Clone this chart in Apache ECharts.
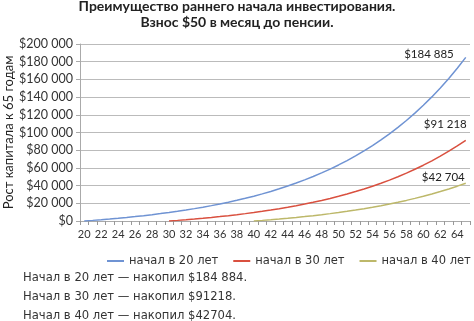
<!DOCTYPE html>
<html><head><meta charset="utf-8">
<script src="https://cdn.jsdelivr.net/npm/echarts@6/dist/echarts.min.js"></script>
<style>html,body{margin:0;padding:0;background:#fff}#c{width:474px;height:321px}</style>
</head><body><div id="c"></div>
<script>
const ages = [];
for (let a = 20; a <= 65; a++) ages.push(String(a));
const start20 = [0,707,1462,2268,3127,4044,5023,6066,7180,8369,9637,10990,12434,13975,15618,17372,19243,21240,23371,25644,28070,30658,33419,36366,39510,42864,46444,50263,54338,58686,63326,68276,73557,79194,85207,91624,98470,105775,113569,121885,130760,140228,150331,161110,172612,184885];
const start30 = [0,704,1456,2258,3113,4026,5000,6040,7148,8332,9594,10941,12379,13912,15549,17295,19158,21146,23267,25530,27945,30521,33271,36204,39334,42674,46237,50040,54097,58425,63044,67973,73231,78842,84828,91218];
const start40 = [0,705,1457,2259,3115,4029,5004,6044,7153,8338,9601,10949,12387,13922,15560,17307,19171,21161,23283,25548,27965,30543,33294,36229,39362,42704];
const seriesNames = ['начал в 20 лет','начал в 30 лет','начал в 40 лет'];
const endLabels = ['$184 885','$91 218','$42 704'];
const notes = ['Начал в 20 лет — накопил $184 884.','Начал в 30 лет — накопил $91218.','Начал в 40 лет — накопил $42704.'];
const titleLines = ['Преимущество раннего начала инвестирования.','Взнос $50 в месяц до пенсии.'];
const yAxisName = 'Рост капитала к 65 годам';

const FONT = 'Lato';
const WIDE = 'DejaVu Sans';
function pad(arr){ const out = new Array(ages.length - arr.length).fill('-'); return out.concat(arr); }
const colors = ['#6f93d3','#d9503f','#bdb86a'];
const labelOffsets = [[-7,-3],[6,-16],[4,-6]];
function mk(i, arr){
  const d = pad(arr);
  const last = d.length-1;
  return {name: seriesNames[i], type:'line', data:d, showSymbol:false, symbol:'none',
    lineStyle:{width:1.5, color:colors[i]}, itemStyle:{color:colors[i]},
    markPoint:{symbol:'circle', symbolSize:0, silent:true,
      data:[{coord:[last, d[last]], value:d[last],
        label:{show:true, position:'left', distance:5, offset:labelOffsets[i], formatter:endLabels[i], color:'#222', fontSize:11.5, fontFamily:FONT}}]}};
}
function fmt(v){ if (v===0) return '$0'; const s=String(v); return '$'+s.replace(/\B(?=(\d{3})+(?!\d))/g,' '); }
const chart = echarts.init(document.getElementById('c'));
chart.setOption({
  animation:false,
  textStyle:{fontFamily:FONT},
  title:{text: titleLines.join('\n'), left:'center', top:-7, textStyle:{fontSize:14, fontWeight:'bold', color:'#222', lineHeight:16, fontFamily:FONT}},
  grid:{left:80, right:4, top:44, bottom:100, outerBoundsMode:'none', containLabel:false},
  legend:{data:seriesNames, top:250, left:102, width:372, itemWidth:17, itemHeight:2, itemGap:15, icon:'rect',
    textStyle:{fontSize:11.5, color:'#333', fontFamily:WIDE}},
  xAxis:{type:'category', data:ages, boundaryGap:true,
    axisLine:{lineStyle:{color:'#aaa'}},
    axisTick:{show:true, alignWithLabel:false, interval:0, length:4, lineStyle:{color:'#999'}},
    axisLabel:{interval:1, color:'#333', fontSize:11, margin:8, fontFamily:FONT}},
  yAxis:{type:'value', min:0, max:200000, interval:20000, name:yAxisName, nameLocation:'middle', nameGap:65, nameRotate:90, nameMoveOverlap:false,
    nameTextStyle:{fontSize:13, color:'#222', fontFamily:FONT},
    axisLine:{show:true, lineStyle:{color:'#aaa'}},
    axisTick:{show:true, length:4, lineStyle:{color:'#aaa'}},
    splitLine:{lineStyle:{color:'#bbb'}},
    axisLabel:{formatter:fmt, color:'#333', fontSize:12.5, margin:7, fontFamily:FONT}},
  series:[mk(0,start20), mk(1,start30), mk(2,start40)],
  graphic: notes.map((t,i)=>({type:'text', left:23, top:272+i*19, style:{text:t, fontSize:11.6, fill:'#333', fontFamily:WIDE}}))
});
</script></body></html>
